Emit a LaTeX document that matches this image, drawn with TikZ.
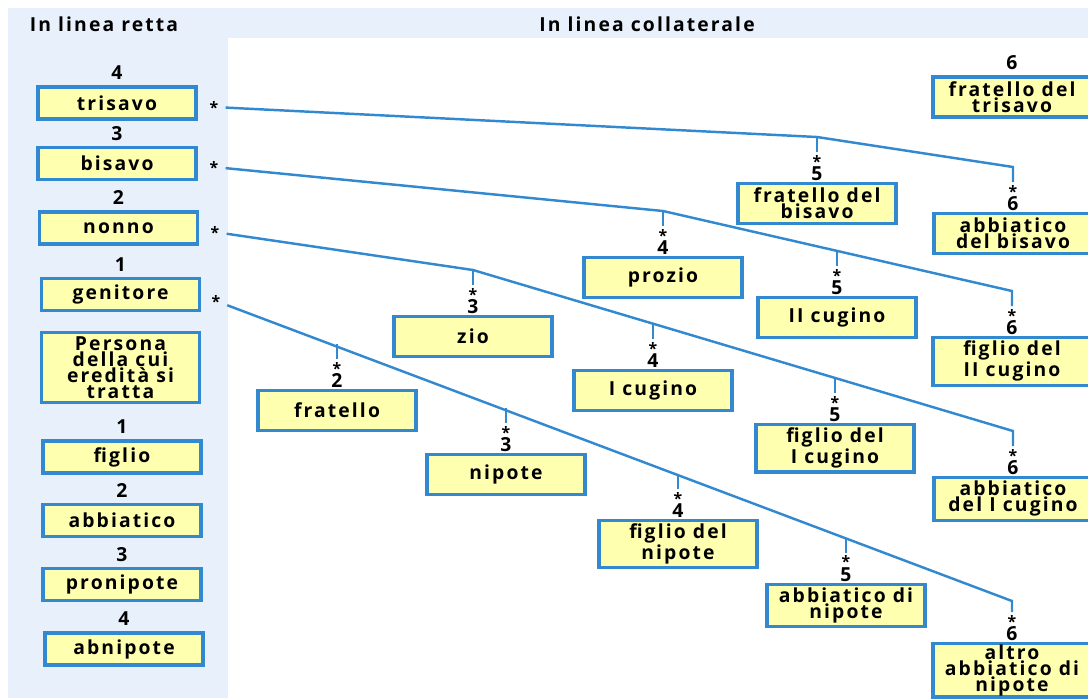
\documentclass[tikz,border=0pt]{standalone}
\usepackage{fontspec}
\newfontfamily\parfont{Open Sans}[LetterSpace=11]
\usetikzlibrary{positioning}
\definecolor{azzurro}{HTML}{3389D0}
\definecolor{giallino}{HTML}{FFFFB0}
\definecolor{fondo}{HTML}{E8F0FB}
\newcommand{\stellina}{{\fontsize{9}{9}\selectfont *}}
\tikzset{
  parente/.style={draw=azzurro, line width=1.8pt, fill=giallino, minimum width=3.16cm, minimum height=0.8cm,
    inner sep=2pt, align=center, font=\parfont\bfseries\fontsize{11}{9.2}\selectfont},
  diretto/.style={parente, minimum height=0.64cm},
  grado/.style={inner sep=0pt, font=\parfont\bfseries\fontsize{11}{10}\selectfont},
  gradocoll/.style={grado, align=center},
  stella/.style={inner sep=0pt, font=\parfont\bfseries\fontsize{9}{9}\selectfont},
  filo/.style={draw=azzurro, line width=1.4pt},
}
\begin{document}
\begin{tikzpicture}[x=0.02cm, y=-0.02cm]
  \useasboundingbox (0,0) rectangle (1088,698);
  \clip (0,0) rectangle (1088,698);
  % sfondo e titoli
  \fill[fondo] (8,8) rectangle (1088,38);
  \fill[fondo] (8,38) rectangle (228,698);
  \node[grado] (tit-retta) at (104,24) {In linea retta};
  \node[grado] (tit-coll) at (647,24) {In linea collaterale};

  % linea retta
  \node[diretto] (tri) at (117,103) {trisavo}; \node[grado, above=3pt of tri] (tri-g) {4};
  \node[diretto] (bis) at (117,163.5) {bisavo}; \node[grado, above=3pt of bis] (bis-g) {3};
  \node[diretto] (non) at (118.5,228) {nonno}; \node[grado, above=3pt of non] (non-g) {2};
  \node[diretto] (gen) at (120.5,294.5) {genitore}; \node[grado, above=3pt of gen] (gen-g) {1};
  \node[diretto, minimum height=1.3cm] (per) at (120.5,367.5) {Persona\\della cui\\eredità si\\tratta};
  \node[diretto] (fig) at (122,457) {figlio}; \node[grado, above=3pt of fig] (fig-g) {1};
  \node[diretto] (abb) at (122,520.5) {abbiatico}; \node[grado, above=3pt of abb] (abb-g) {2};
  \node[diretto] (pro) at (122,584.5) {pronipote}; \node[grado, above=3pt of pro] (pro-g) {3};
  \node[diretto] (abn) at (124,649) {abnipote}; \node[grado, above=3pt of abn] (abn-g) {4};

  \node[stella] (tri-s) at (214,107) {*};
  \node[stella] (bis-s) at (214,167) {*};
  \node[stella] (non-s) at (215,232) {*};
  \node[stella] (gen-s) at (216,301) {*};

  % punti sulle linee
  \coordinate (T1) at (817,137); \coordinate (T2) at (1013,167);
  \coordinate (B1) at (663,211); \coordinate (B2) at (837,251); \coordinate (B3) at (1012,291);
  \coordinate (N1) at (473,270); \coordinate (N2) at (653,323.7); \coordinate (N3) at (835,377.9); \coordinate (N4) at (1013,431);
  \coordinate (G1) at (337,343.8); \coordinate (G2) at (506,408.2); \coordinate (G3) at (678,473.7); \coordinate (G4) at (846,537.7); \coordinate (G5) at (1012,601);

  % linea collaterale
  \node[parente] (frtri) at (1012,97) {fratello del\\trisavo}; \node[grado, above=3pt of frtri] (frtri-g) {6};

  \node[parente, below=0.9cm of T1] (frbis) {fratello del\\bisavo};
  \node[parente, below=0.9cm of T2] (abbis) {abbiatico\\del bisavo};
  \node[parente, below=0.9cm of B1] (prz) {prozio};
  \node[parente, below=0.9cm of B2] (cug2) {II cugino};
  \node[parente, below=0.9cm of B3] (ficug2) {figlio del\\II cugino};
  \node[parente, below=0.9cm of N1] (zio) {zio};
  \node[parente, below=0.9cm of N2] (cug1) {I cugino};
  \node[parente, below=0.9cm of N3] (ficug1) {figlio del\\I cugino};
  \node[parente, below=0.9cm of N4] (abcug1) {abbiatico\\del I cugino};
  \node[parente, below=0.9cm of G1] (fra) {fratello};
  \node[parente, below=0.9cm of G2] (nip) {nipote};
  \node[parente, below=0.9cm of G3] (finip) {figlio del\\nipote};
  \node[parente, below=0.9cm of G4] (abnip) {abbiatico di\\nipote};
  \node[parente, inner sep=0.5pt, below=0.82cm of G5] (alnip) {altro\\abbiatico di\\nipote};

  % gradi con asterisco
  \node[gradocoll, above=0.5pt of frbis] (frbis-g) {\stellina\\[-2.4pt]5};
  \node[gradocoll, above=0.5pt of abbis] (abbis-g) {\stellina\\[-2.4pt]6};
  \node[gradocoll, above=0.5pt of prz] (prz-g) {\stellina\\[-2.4pt]4};
  \node[gradocoll, above=0.5pt of cug2] (cug2-g) {\stellina\\[-2.4pt]5};
  \node[gradocoll, above=0.5pt of ficug2] (ficug2-g) {\stellina\\[-2.4pt]6};
  \node[gradocoll, above=0.5pt of zio] (zio-g) {\stellina\\[-2.4pt]3};
  \node[gradocoll, above=0.5pt of cug1] (cug1-g) {\stellina\\[-2.4pt]4};
  \node[gradocoll, above=0.5pt of ficug1] (ficug1-g) {\stellina\\[-2.4pt]5};
  \node[gradocoll, above=0.5pt of abcug1] (abcug1-g) {\stellina\\[-2.4pt]6};
  \node[gradocoll, above=0.5pt of fra] (fra-g) {\stellina\\[-2.4pt]2};
  \node[gradocoll, above=0.5pt of nip] (nip-g) {\stellina\\[-2.4pt]3};
  \node[gradocoll, above=0.5pt of finip] (finip-g) {\stellina\\[-2.4pt]4};
  \node[gradocoll, above=0.5pt of abnip] (abnip-g) {\stellina\\[-2.4pt]5};
  \node[gradocoll, above=0.5pt of alnip] (alnip-g) {\stellina\\[-2.4pt]6};

  % linee
  \draw[filo, shorten <=4pt, shorten >=1.5pt] (tri-s) -- (T1) -- (T2) -- (abbis-g.north);
  \draw[filo, shorten <=4pt, shorten >=1.5pt] (bis-s) -- (B1) -- (B3) -- (ficug2-g.north);
  \draw[filo, shorten <=4pt, shorten >=1.5pt] (non-s) -- (N1) -- (N4) -- (abcug1-g.north);
  \draw[filo, shorten <=4pt, shorten >=1.5pt] (gen-s) -- (G5) -- (alnip-g.north);
  % trattini
  \draw[filo, shorten >=1.5pt] (T1) -- (frbis-g.north);
  \draw[filo, shorten >=1.5pt] (B1) -- (prz-g.north);
  \draw[filo, shorten >=1.5pt] (B2) -- (cug2-g.north);
  \draw[filo, shorten >=1.5pt] (N1) -- (zio-g.north);
  \draw[filo, shorten >=1.5pt] (N2) -- (cug1-g.north);
  \draw[filo, shorten >=1.5pt] (N3) -- (ficug1-g.north);
  \draw[filo, shorten >=1.5pt] (G1) -- (fra-g.north);
  \draw[filo, shorten >=1.5pt] (G2) -- (nip-g.north);
  \draw[filo, shorten >=1.5pt] (G3) -- (finip-g.north);
  \draw[filo, shorten >=1.5pt] (G4) -- (abnip-g.north);
\end{tikzpicture}
\end{document}
